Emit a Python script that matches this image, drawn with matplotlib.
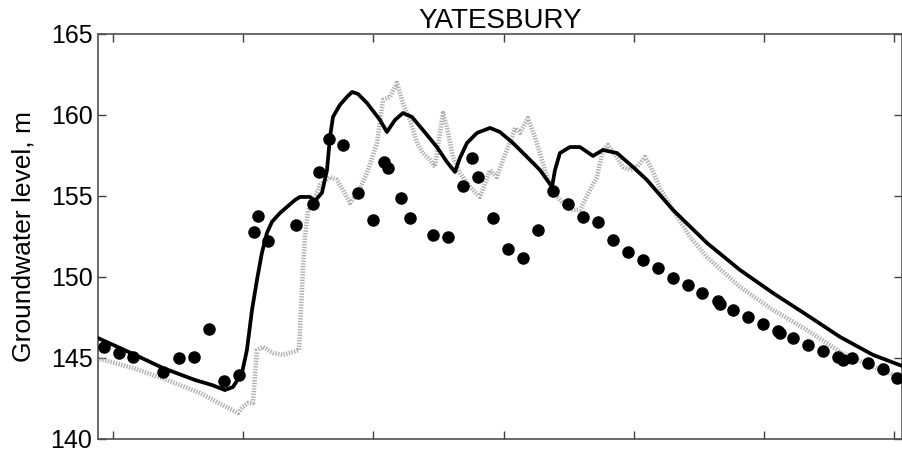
import matplotlib
matplotlib.use("Agg")
import matplotlib.pyplot as plt

# observed groundwater levels (dots)
obs_t = [-0.069, 0.046, 0.154, 0.384, 0.507, 0.622, 0.737, 0.853, 0.968, 1.083,
         1.114, 1.190, 1.406, 1.536, 1.582, 1.659, 1.767, 1.882, 1.997, 2.081,
         2.112, 2.212, 2.281, 2.458, 2.573, 2.688, 2.757, 2.803, 2.919, 3.034,
         3.149, 3.264, 3.379, 3.495, 3.610, 3.725, 3.840, 3.955, 4.071, 4.186,
         4.301, 4.416, 4.524, 4.647, 4.662, 4.762, 4.877, 4.992, 5.108, 5.123,
         5.223, 5.338, 5.453, 5.568, 5.607, 5.676, 5.799, 5.914, 6.021]
obs_h = [145.68, 145.31, 145.06, 144.14, 145.00, 145.06, 146.79, 143.58, 143.95, 152.78,
         153.77, 152.22, 153.21, 154.51, 156.48, 158.52, 158.15, 155.19, 153.52, 157.10,
         156.73, 154.88, 153.64, 152.59, 152.47, 155.62, 157.35, 156.17, 153.64, 151.73,
         151.17, 152.90, 155.31, 154.51, 153.70, 153.40, 152.28, 151.54, 151.05, 150.56,
         149.94, 149.51, 149.01, 148.52, 148.33, 147.96, 147.53, 147.10, 146.67, 146.54,
         146.23, 145.80, 145.43, 145.06, 144.88, 145.00, 144.69, 144.32, 143.77]

# model 1 (solid black)
sim_t = [-0.115, 0.154, 0.384, 0.630, 0.760, 0.860, 0.922, 0.991, 1.029, 1.068,
         1.106, 1.144, 1.183, 1.221, 1.283, 1.398, 1.436, 1.513, 1.551, 1.605,
         1.644, 1.667, 1.690, 1.743, 1.797, 1.836, 1.882, 1.951, 2.051, 2.104,
         2.166, 2.227, 2.296, 2.381, 2.488, 2.565, 2.627, 2.665, 2.719, 2.796,
         2.896, 2.972, 3.072, 3.180, 3.280, 3.372, 3.395, 3.433, 3.510, 3.587,
         3.687, 3.763, 3.871, 3.994, 4.101, 4.201, 4.301, 4.562, 4.816, 5.069,
         5.330, 5.584, 5.837, 6.060]
sim_h = [146.23, 145.25, 144.38, 143.64, 143.33, 143.02, 143.21, 144.07, 145.49, 147.96,
         149.81, 151.48, 152.72, 153.40, 153.95, 154.75, 154.94, 154.94, 154.69, 155.19,
         156.60, 158.64, 159.88, 160.62, 161.11, 161.42, 161.30, 160.74, 159.69, 158.95,
         159.69, 160.12, 159.88, 159.07, 158.02, 157.10, 156.48, 157.35, 158.27, 158.89,
         159.20, 158.95, 158.27, 157.41, 156.60, 155.56, 156.60, 157.65, 158.02, 158.02,
         157.47, 157.84, 157.65, 156.79, 155.99, 155.06, 154.14, 152.10, 150.43, 149.01,
         147.65, 146.30, 145.19, 144.51]

# model 2 (grey dotted)
alt_t = [-0.100, 0.154, 0.415, 0.668, 0.960, 0.998, 1.037, 1.075, 1.106, 1.152,
         1.229, 1.306, 1.382, 1.429, 1.459, 1.475, 1.498, 1.536, 1.590, 1.667,
         1.720, 1.767, 1.820, 1.882, 1.951, 2.028, 2.074, 2.127, 2.181, 2.227,
         2.281, 2.335, 2.381, 2.435, 2.473, 2.512, 2.535, 2.565, 2.611, 2.665,
         2.719, 2.765, 2.819, 2.896, 2.949, 2.995, 3.065, 3.088, 3.126, 3.187,
         3.241, 3.295, 3.341, 3.410, 3.510, 3.587, 3.664, 3.717, 3.763, 3.802,
         3.856, 3.917, 3.971, 4.025, 4.086, 4.124, 4.201, 4.301, 4.432, 4.562,
         4.816, 5.069, 5.330, 5.584, 5.837, 6.060]
alt_h = [144.94, 144.38, 143.64, 142.84, 141.60, 141.98, 142.22, 142.22, 145.49, 145.68,
         145.31, 145.19, 145.37, 145.49, 150.43, 152.47, 154.14, 154.57, 155.68, 156.17,
         155.99, 155.37, 154.57, 155.19, 156.42, 158.27, 160.93, 161.11, 161.98, 160.74,
         159.69, 158.27, 157.65, 157.22, 156.79, 158.89, 160.12, 159.26, 157.41, 156.42,
         155.80, 155.37, 154.94, 156.60, 156.17, 157.22, 158.64, 159.20, 158.89, 159.81,
         158.64, 157.22, 155.99, 154.94, 154.14, 154.14, 155.37, 156.17, 157.84, 158.15,
         157.53, 156.79, 156.60, 156.79, 157.41, 156.91, 155.49, 154.14, 152.47, 151.23,
         149.38, 147.96, 146.73, 145.37, 144.44, 143.77]

yticks = [140, 145, 150, 155, 160, 165]

plt.rcParams['font.family'] = ['Liberation Sans', 'DejaVu Sans']

fig = plt.figure(figsize=(9.02, 4.53), dpi=100)
ax = fig.add_axes([0.1086, 0.031, 0.8914, 0.894])

ax.plot(alt_t, alt_h, color='#b0b0b0', lw=3.3, dashes=(0.3, 0.3), zorder=2,
        solid_joinstyle='round', dash_joinstyle='round')
ax.plot(sim_t, sim_h, color='black', lw=2.7, zorder=3,
        solid_joinstyle='round', solid_capstyle='round')
ax.plot(obs_t, obs_h, 'o', color='black', ms=8, zorder=4)

ax.set_xlim(-0.115, 6.06)
ax.set_ylim(140, 165)
ax.set_xticks(range(7))
ax.set_xticklabels([])
ax.set_yticks(yticks)
ax.tick_params(direction='in', length=6, width=1, colors='#404040',
               labelcolor='black', labelsize=18, top=True, right=True, pad=4)
for s in ax.spines.values():
    s.set_color('#505050')
    s.set_linewidth(1.2)

ax.set_ylabel('Groundwater level, m', fontsize=19, labelpad=11)
ax.set_title('YATESBURY', fontsize=20, pad=4)

fig.savefig('out.png', dpi=100)
